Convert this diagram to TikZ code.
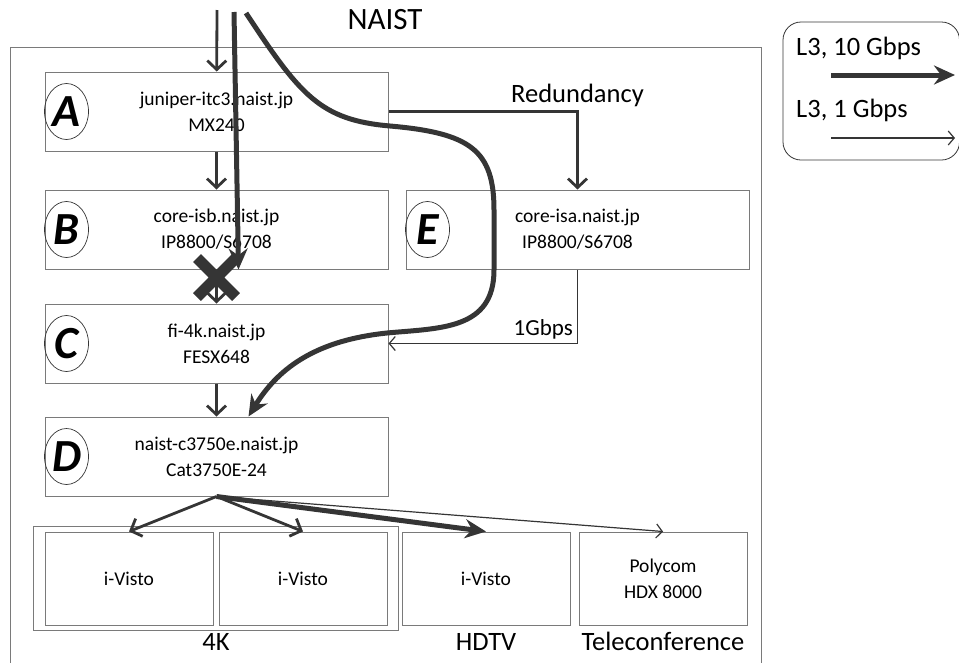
\documentclass[tikz,border=0pt]{standalone}
\usepackage{fontspec}
\setmainfont{Carlito}
\usetikzlibrary{arrows.meta,positioning,fit,calc,shapes.geometric,shapes.misc}
\definecolor{ink}{HTML}{353535}
\definecolor{frame}{HTML}{7A7A7A}

\begin{document}
\begin{tikzpicture}[x=1pt, y=-1pt,
  font=\fontsize{19.5}{26}\selectfont,
  box/.style={draw=frame, line width=1pt, minimum width=343pt, minimum height=79pt, align=center, inner sep=0pt},
  scr/.style={draw=frame, line width=1pt, minimum width=168pt, minimum height=93pt, align=center, inner sep=0pt},
  tag/.style={draw=ink, ellipse, line width=0.7pt, minimum width=44pt, minimum height=56pt, inner sep=0pt, font=\fontsize{46}{46}\selectfont\bfseries\itshape},
  lbl/.style={font=\fontsize{26.5}{30}\selectfont, inner sep=0pt},
  link/.style={draw=ink, line width=2.8pt, -{Straight Barb[length=9pt, width=19pt]}},
  tenG/.style={draw=ink, line width=5pt, -{Stealth[length=21pt, width=19pt, inset=7pt]}},
  oneG/.style={draw=ink, line width=1.2pt, -{Straight Barb[length=6pt, width=14pt]}}]
  \useasboundingbox (0,0) rectangle (959,662);
  % campus frame
  \draw[frame, line width=1pt] (10,664) |- (761,47) -- (761,664);
  \node[font=\fontsize{31}{31}\selectfont] (naist) at (385,20) {NAIST};
  % routers and switches
  \node[box] (A) at (216.5,111.5) {juniper-itc3.naist.jp\\MX240};
  \node[box, below=38pt of A] (B) {core-isb.naist.jp\\IP8800/S6708};
  \node[box, below=34pt of B] (C) {fi-4k.naist.jp\\FESX648};
  \node[box, below=33pt of C] (D) {naist-c3750e.naist.jp\\Cat3750E-24};
  \node[box, right=17pt of B] (E) {core-isa.naist.jp\\IP8800/S6708};
  \node[tag] (tA) at ([xshift=22pt]A.west) {A};
  \node[tag] (tB) at ([xshift=22pt]B.west) {B};
  \node[tag] (tC) at ([xshift=22pt]C.west) {C};
  \node[tag] (tD) at ([xshift=22pt]D.west) {D};
  \node[tag] (tE) at ([xshift=22pt]E.west) {E};
  % displays
  \node[scr, below=35pt of D.south west, anchor=north west] (v1) {i-Visto};
  \node[scr, right=5pt of v1] (v2) {i-Visto};
  \node[scr, right=14pt of v2] (v3) {i-Visto};
  \node[scr, right=8pt of v3] (pc) {Polycom\\HDX 8000};
  \node[draw=frame, line width=1pt, fit=(v1)(v2), inner xsep=11pt, inner ysep=5pt] (grp) {};
  \node[lbl, below=2pt of grp] (k4) {4K};
  \node[lbl, anchor=base] (hd) at (v3 |- k4.base) {HDTV};
  \node[lbl, anchor=base] (tc) at (pc |- k4.base) {Teleconference};
  % uplinks
  \coordinate (in1) at (217,10);
  \coordinate (in2) at (234,12);
  \coordinate (in3) at (246,13);
  \draw[link] (in1) -- (A);
  \draw[link] (A) -- (B);
  \draw[link] (B) -- (C);
  \draw[link] (C) -- (D);
  \draw[link] (A.east) -| node[pos=0.5, above=3pt, lbl] {Redundancy} (E.north);
  \draw[oneG] (E.south) |- node[pos=0.5, anchor=south east, inner sep=4pt, font=\fontsize{23}{23}\selectfont] {1Gbps} (C.east);
  \node[draw=ink, cross out, line width=11pt, minimum width=28pt, minimum height=28pt, inner sep=0pt] (cut) at ($(B.south)+(0,8)$) {};
  \draw[tenG] (in2) -- ([xshift=22pt]B.south);
  \draw[tenG] (in3) .. controls (300,95) and (320,120) .. (390,126)
    .. controls (470,133) and (494,150) .. (494,210) -- (494,270)
    .. controls (494,330) and (440,328) .. (387,333)
    .. controls (320,340) and (280,365) .. ([xshift=32pt]D.north);
  % to the displays
  \draw[link] (D.south) -- (v1.north);
  \draw[link] (D.south) -- (v2.north);
  \draw[tenG] (D.south) -- (v3.north);
  \draw[oneG] (D.south) -- (pc.north);
  % legend
  \draw[ink, line width=0.8pt, rounded corners=18pt] (783,22) rectangle (959.5,160);
  \node[lbl, anchor=west] (l10) at (796,48) {L3, 10 Gbps};
  \node[lbl, anchor=west] (l1) at (796,110) {L3, 1 Gbps};
  \coordinate (l10a) at (831,75);
  \coordinate (l10b) at (955,75);
  \coordinate (l1a) at (831,138);
  \coordinate (l1b) at (955,138);
  \draw[tenG] (l10a) -- (l10b);
  \draw[oneG] (l1a) -- (l1b);
\end{tikzpicture}
\end{document}
